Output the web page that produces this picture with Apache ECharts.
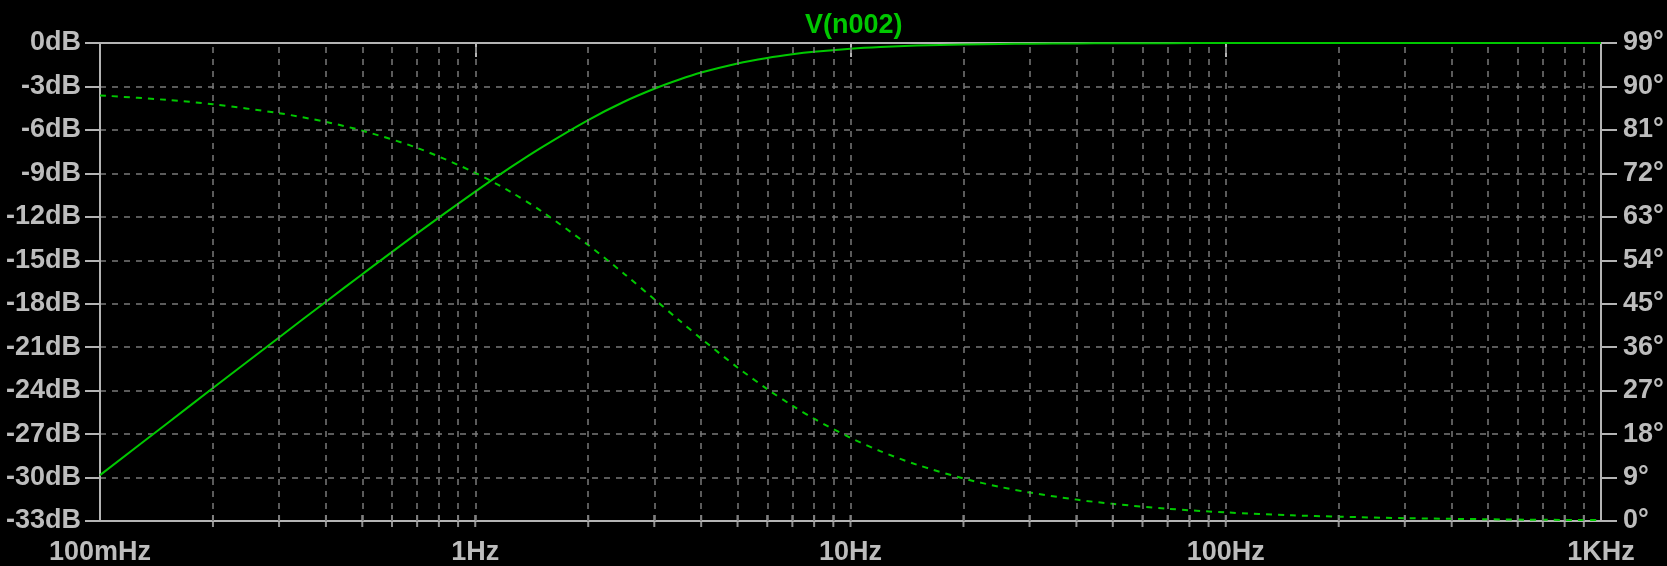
<!DOCTYPE html>
<html>
<head>
<meta charset="utf-8">
<script src="https://cdn.jsdelivr.net/npm/echarts@6/dist/echarts.min.js"></script>
<style>
html,body{margin:0;padding:0;background:#000;}
#chart{width:1667px;height:566px;}
</style>
</head>
<body>
<div id="chart"></div>
<script>
// Frequencies (Hz) at which the traces were read
const freqs = [0.1, 0.15, 0.2, 0.3, 0.4, 0.5, 0.7, 1, 1.25, 1.5, 2, 2.5, 3, 3.5, 4, 5, 6, 7, 8, 10, 12, 15, 20, 25, 30, 40, 50, 70, 100, 150, 200, 300, 500, 700, 1000];
// Magnitude of V(n002) in dB
const magnitudeDb = [-29.83, -26.32, -23.82, -20.33, -17.86, -15.96, -13.14, -10.26, -8.54, -7.22, -5.32, -4.04, -3.16, -2.52, -2.04, -1.41, -1.03, -0.78, -0.61, -0.40, -0.28, -0.18, -0.10, -0.07, -0.05, -0.03, -0.02, -0.01, 0, 0, 0, 0, 0, 0, 0];
// Phase of V(n002) in degrees
const phaseDeg = [88.15, 87.23, 86.31, 84.47, 82.65, 80.84, 77.28, 72.12, 68.04, 64.18, 57.17, 51.12, 45.94, 41.54, 37.78, 31.80, 27.32, 23.89, 21.18, 17.22, 14.48, 11.68, 8.81, 7.07, 5.90, 4.43, 3.55, 2.54, 1.78, 1.18, 0.89, 0.59, 0.36, 0.25, 0.18];
// Log grid / tick frequencies
const gridFreqs = [0.2,0.3,0.4,0.5,0.6,0.7,0.8,0.9,1,2,3,4,5,6,7,8,9,10,20,30,40,50,60,70,80,90,100,200,300,400,500,600,700,800,900];
const xTickValues = [0.1, 1, 10, 100, 1000];
const xTickLabels = ['100mHz', '1Hz', '10Hz', '100Hz', '1KHz'];
const traceName = 'V(n002)';

const GREEN = '#00c800';
const AXIS = '#b4b4b4';
const GRID = '#7a7a7a';
const TEXT = '#bdbdbd';
const FONT = 'Liberation Sans';

const chart = echarts.init(document.getElementById('chart'), null, {renderer: 'canvas'});

const labelOf = v => {
  for (let i = 0; i < xTickValues.length; i++) {
    if (Math.abs(Math.log10(v) - Math.log10(xTickValues[i])) < 1e-6) return xTickLabels[i];
  }
  return '';
};

chart.setOption({
  backgroundColor: '#000',
  animation: false,
  title: {
    text: traceName,
    left: 800, top: 7,
    textStyle: {color: GREEN, fontFamily: FONT, fontSize: 27, fontWeight: 'bold'}
  },
  grid: {
    left: 100, right: 66, top: 43, bottom: 43,
    show: true, borderColor: AXIS, borderWidth: 2, backgroundColor: 'transparent'
  },
  xAxis: {
    type: 'log', logBase: 10, min: 0.1, max: 1000,
    axisLine: {show: true, lineStyle: {color: AXIS, width: 2}},
    axisTick: {show: true, length: 14, lineStyle: {color: AXIS, width: 2}},
    axisLabel: {color: TEXT, fontFamily: FONT, fontSize: 27, fontWeight: 'bold', margin: 18, formatter: labelOf, showMinLabel: true, showMaxLabel: true},
    splitLine: {show: false}
  },
  yAxis: [
    {
      type: 'value', min: -33, max: 0, interval: 3, position: 'left',
      axisLine: {show: true, lineStyle: {color: AXIS, width: 2}},
      axisTick: {show: true, length: 15, lineStyle: {color: AXIS, width: 2}},
      axisLabel: {color: TEXT, fontFamily: FONT, fontSize: 27, fontWeight: 'bold', margin: 19, formatter: '{value}dB'},
      splitLine: {show: true, showMinLine: false, showMaxLine: false, lineStyle: {color: GRID, width: 1.5, type: [6, 6]}}
    },
    {
      type: 'value', min: 0, max: 99, interval: 9, position: 'right',
      axisLine: {show: true, lineStyle: {color: AXIS, width: 2}},
      axisTick: {show: true, length: 16, lineStyle: {color: AXIS, width: 2}},
      axisLabel: {color: TEXT, fontFamily: FONT, fontSize: 27, fontWeight: 'bold', margin: 22, formatter: '{value}°'},
      splitLine: {show: false}
    }
  ],
  series: [
    {
      name: 'grid', type: 'scatter', yAxisIndex: 0, silent: true,
      symbol: 'rect', symbolSize: [2, 12],
      itemStyle: {color: AXIS},
      data: gridFreqs.map(f => [f, -33]),
      markLine: {
        silent: true, symbol: 'none', label: {show: false},
        lineStyle: {color: GRID, width: 1.5, type: [6, 6]},
        emphasis: {disabled: true},
        data: gridFreqs.map(f => ({xAxis: f}))
      },
      z: 1
    },
    {
      name: traceName + ' phase', type: 'line', yAxisIndex: 1,
      data: freqs.map((f, i) => [f, phaseDeg[i]]),
      showSymbol: false, smooth: 0.3,
      lineStyle: {color: GREEN, width: 2, type: [6, 6]},
      z: 3
    },
    {
      name: traceName, type: 'line', yAxisIndex: 0,
      data: freqs.map((f, i) => [f, magnitudeDb[i]]),
      showSymbol: false, smooth: 0.3,
      lineStyle: {color: GREEN, width: 2},
      z: 4
    }
  ]
});
</script>
</body>
</html>
